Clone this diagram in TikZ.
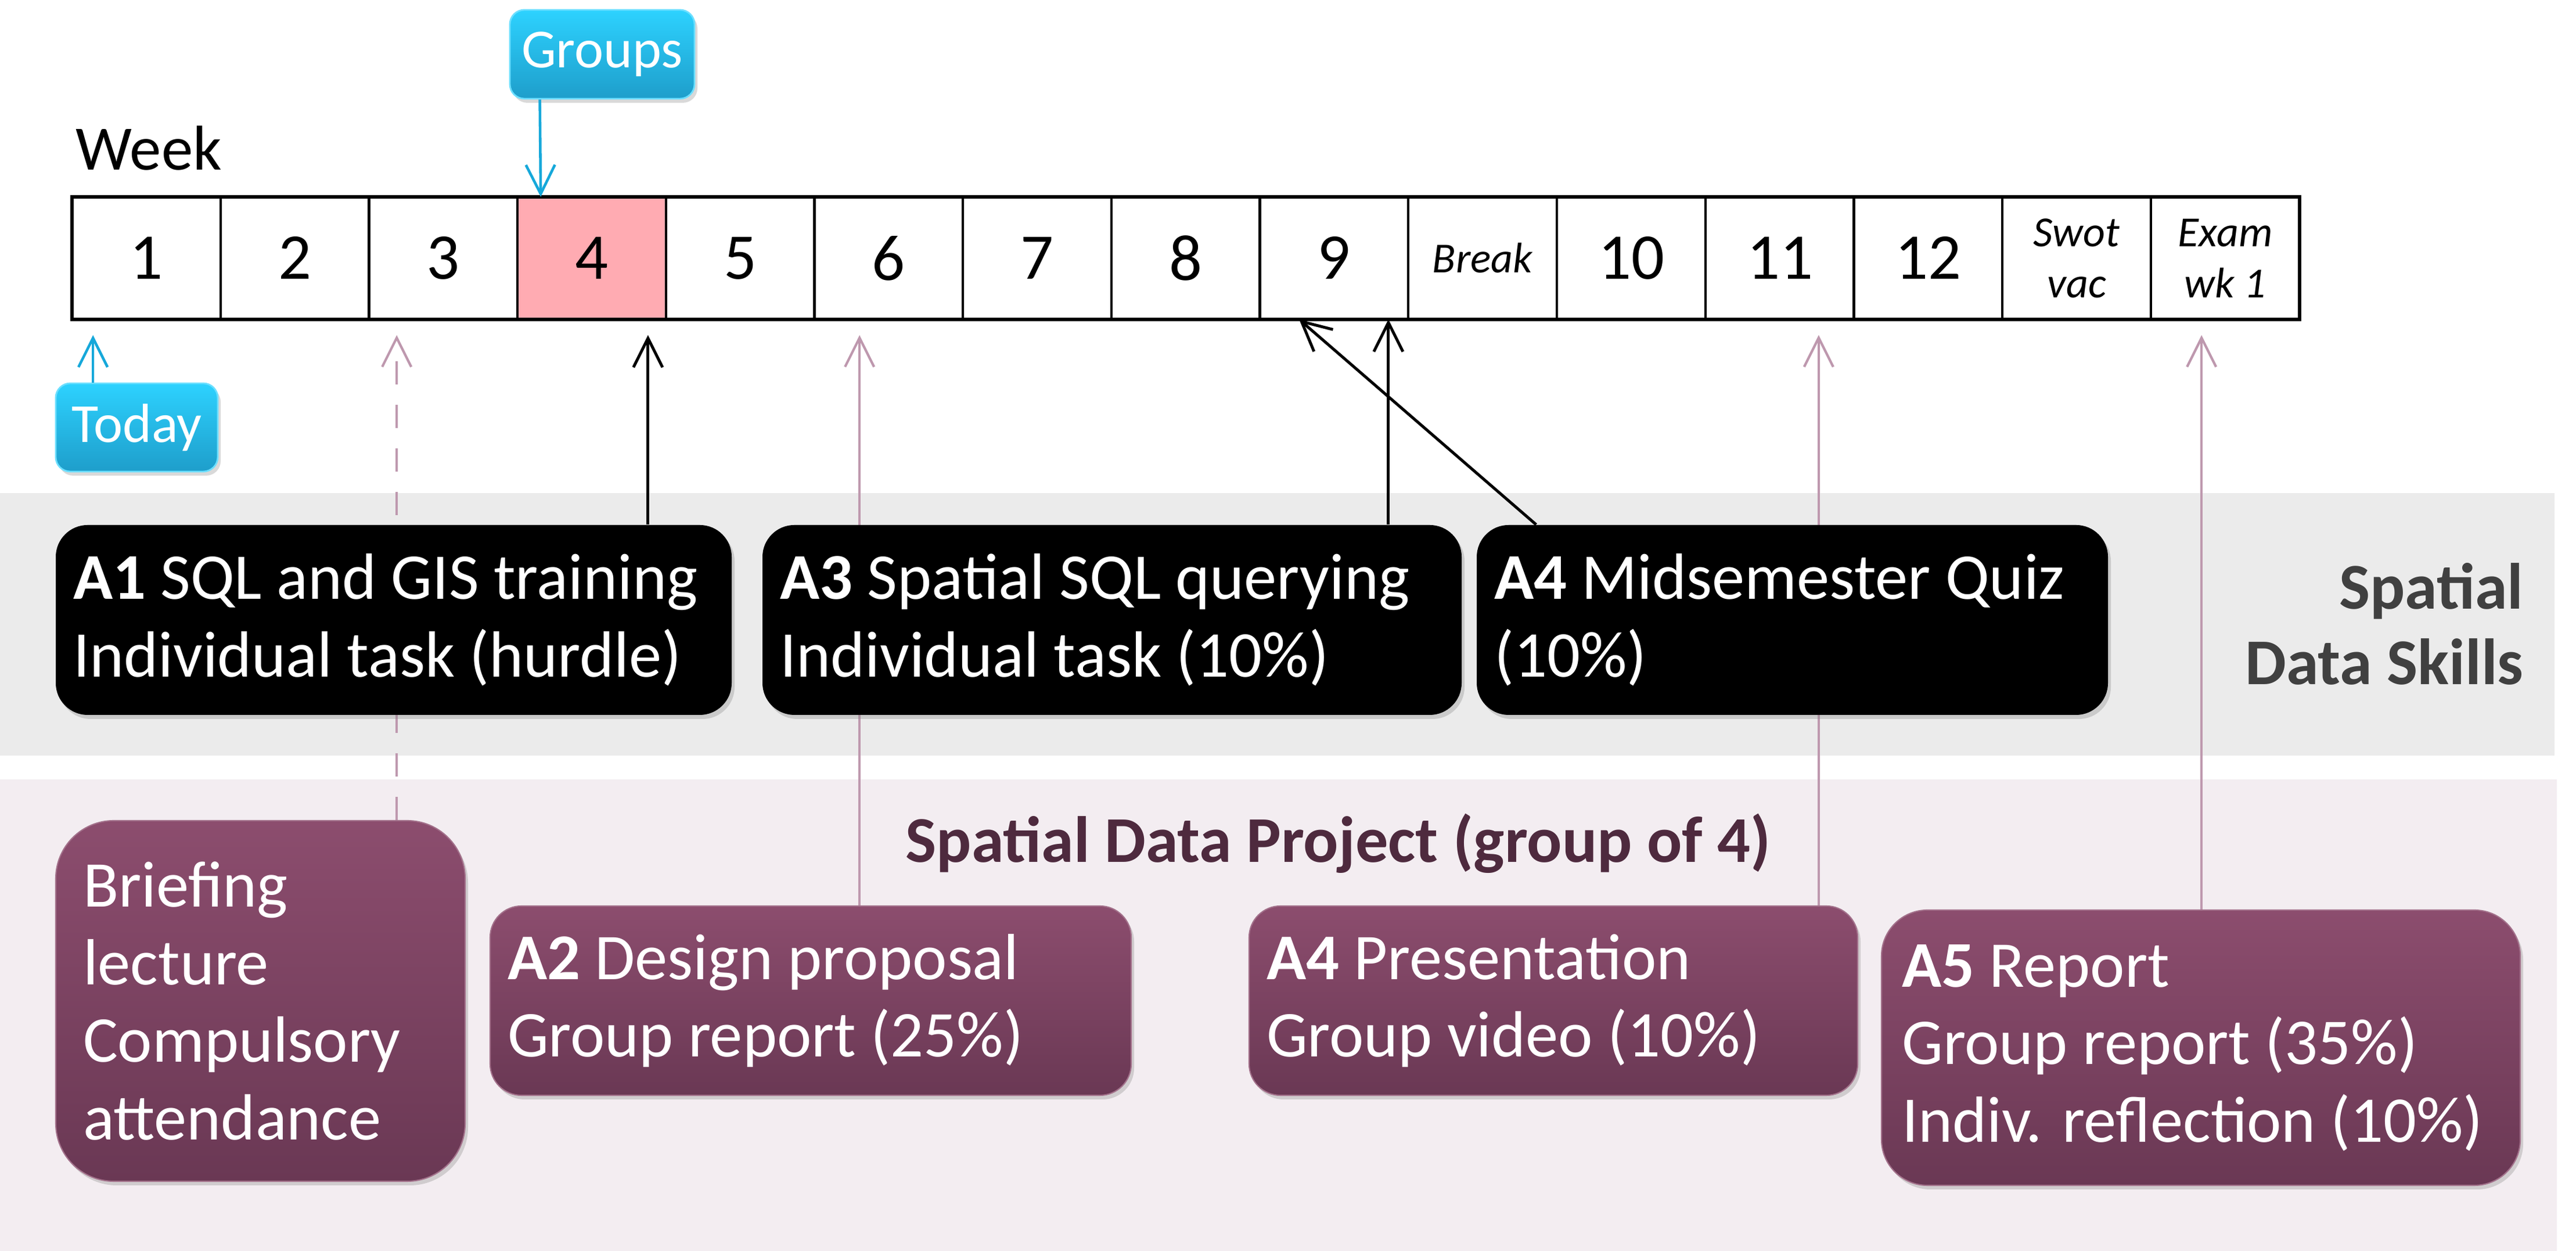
\documentclass[tikz,border=0pt]{standalone}
\usepackage{fontspec}
\setmainfont{Carlito}
\usepackage{xcolor}
\usepackage{tikz}
\usetikzlibrary{positioning,calc,arrows.meta,shadows}

\definecolor{skillgrey}{HTML}{EBEBEB}
\definecolor{skilltext}{HTML}{404040}
\definecolor{projpink}{HTML}{F3EDF1}
\definecolor{plumtop}{HTML}{8C4D6E}
\definecolor{plumbot}{HTML}{6A3854}
\definecolor{plumline}{HTML}{BE98AE}
\definecolor{plumtext}{HTML}{4E2A3E}
\definecolor{cyantop}{HTML}{2DD2FF}
\definecolor{cyanbot}{HTML}{1E9ECB}
\definecolor{cyanline}{HTML}{16A8DA}
\definecolor{weekpink}{HTML}{FFABB2}

\pgfdeclarelayer{bands}
\pgfdeclarelayer{links}
\pgfsetlayers{bands,links,main}

\begin{document}
\begin{tikzpicture}[
    big/.style={font=\fontsize{32}{38}\selectfont},
    week/.style={draw, line width=1.1pt, minimum width=2.557cm, minimum height=2.11cm, inner sep=0pt, outer sep=0pt, big},
    small/.style={font=\fontsize{21}{25}\selectfont\itshape, align=center},
    boxshadow/.style={drop shadow={shadow xshift=0.05cm, shadow yshift=-0.07cm, opacity=0.3}},
    skill/.style={fill=black, text=white, rounded corners=0.55cm, inner xsep=0.3cm, align=flush left, minimum height=3.27cm, big, boxshadow},
    project/.style={top color=plumtop, bottom color=plumbot, draw=plumtop!80!white, line width=0.6pt, text=white, inner xsep=0.3cm, align=flush left, big, boxshadow},
    tag/.style={top color=cyantop, bottom color=cyanbot, draw=cyantop!70!white, line width=0.8pt, text=white, rounded corners=0.25cm, font=\fontsize{27}{32}\selectfont, boxshadow},
    blackarrow/.style={-{Straight Barb[length=5mm,width=5mm]}, line width=1.4pt},
    pinkarrow/.style={-{Straight Barb[length=5mm,width=5mm]}, plumline, line width=1.2pt},
    cyanarrow/.style={-{Straight Barb[length=5mm,width=5mm]}, cyanline, line width=1.3pt},
]
    \useasboundingbox (0,0) rectangle (44.36,21.54);

    % Bands
    \begin{pgfonlayer}{bands}
        \fill[skillgrey] (0,8.53) rectangle (43.99,13.05);
        \fill[projpink] (0,0) rectangle (44.03,8.12);
    \end{pgfonlayer}

    % Timeline
    \node[anchor=base west, inner sep=0pt, font=\fontsize{31}{37}\selectfont] (weeklabel) at (1.30,18.61) {Week};
    \node[week] (w1) at (2.52,17.095) {1};
    \node[week] (w2) at (5.08,17.095) {2};
    \node[week] (w3) at (7.63,17.095) {3};
    \node[week, fill=weekpink] (w4) at (10.19,17.095) {4};
    \node[week] (w5) at (12.75,17.095) {5};
    \node[week] (w6) at (15.30,17.095) {6};
    \node[week] (w7) at (17.86,17.095) {7};
    \node[week] (w8) at (20.42,17.095) {8};
    \node[week] (w9) at (22.97,17.095) {9};
    \node[week, small] (w10) at (25.53,17.095) {Break};
    \node[week] (w11) at (28.09,17.095) {10};
    \node[week] (w12) at (30.65,17.095) {11};
    \node[week] (w13) at (33.20,17.095) {12};
    \node[week, small] (w14) at (35.76,17.095) {Swot\\vac};
    \node[week, small] (w15) at (38.32,17.095) {Exam\\wk 1};
    \draw[line width=1.6pt] (w1.south west) rectangle (w15.north east);

    % Groups and Today
    \node[tag, minimum width=3.18cm, minimum height=1.53cm] (groups) at (10.37,20.605) {Groups};
    \node[tag, minimum width=2.79cm, minimum height=1.52cm] (today) at (2.355,14.18) {Today};

    % Spatial Data Skills
    \node[skill, text width=11.04cm] (aone) at (6.78,10.865) {\textbf{A1} SQL and GIS training\\Individual task (hurdle)};
    \node[skill, text width=11.44cm] (athree) at (19.15,10.865) {\textbf{A3} Spatial SQL querying\\Individual task (10\%)};
    \node[skill, text width=10.27cm] (quiz) at (30.865,10.865) {\textbf{A4} Midsemester Quiz\\(10\%)};
    \node[anchor=east, inner sep=0pt, align=right, font=\bfseries\fontsize{32}{37}\selectfont, text=skilltext] (skills) at (43.46,10.80) {Spatial\\Data Skills};

    % Spatial Data Project
    \node[anchor=base west, inner sep=0pt, font=\bfseries\fontsize{32}{38}\selectfont, text=plumtext] (projlabel) at (15.59,6.69) {Spatial Data Project (group of 4)};
    \node[project, rounded corners=1cm, inner xsep=0.47cm, text width=6.11cm, minimum height=6.21cm] (brief) at (4.485,4.305) {Briefing\\lecture\\Compulsory\\attendance};
    \node[project, rounded corners=0.54cm, text width=10.44cm, minimum height=3.26cm] (atwo) at (13.96,4.31) {\textbf{A2} Design proposal\\Group report (25\%)};
    \node[project, rounded corners=0.54cm, text width=9.88cm, minimum height=3.26cm] (present) at (26.75,4.31) {\textbf{A4} Presentation\\Group video (10\%)};
    \node[project, rounded corners=0.79cm, inner xsep=0.35cm, text width=10.30cm, minimum height=4.74cm] (report) at (37.90,3.50) {\textbf{A5} Report\\Group report (35\%)\\Indiv. reflection (10\%)};

    % Arrow tips below the weeks
    \coordinate (todaytip) at ([xshift=3.6mm,yshift=-2.7mm]w1.south west);
    \coordinate (brieftip) at ([xshift=4.8mm,yshift=-2.7mm]w3.south west);
    \coordinate (aonetip) at ([xshift=-3.1mm,yshift=-2.7mm]w4.south east);
    \coordinate (atwotip) at ([xshift=7.8mm,yshift=-2.7mm]w6.south west);
    \coordinate (quiztip) at ([xshift=6.8mm]w9.south west);
    \coordinate (athreetip) at ([xshift=-3.4mm]w9.south east);
    \coordinate (presenttip) at ([xshift=-6.1mm,yshift=-2.7mm]w12.south east);
    \coordinate (reporttip) at ([xshift=8.7mm,yshift=-2.7mm]w15.south west);

    % Connectors
    \draw[cyanarrow] ([xshift=5.3mm]groups.south west) -- ([xshift=4mm]w4.north west);
    \draw[cyanarrow] (todaytip |- today.north) -- (todaytip);
    \begin{pgfonlayer}{links}
        \draw[blackarrow] (aonetip |- aone.north) -- (aonetip);
        \draw[blackarrow] (athreetip |- athree.north) -- (athreetip);
        \draw[blackarrow] ([xshift=10.3mm]quiz.north west) -- (quiztip);
        \draw[pinkarrow, dash pattern=on 4mm off 3.5mm] (brieftip |- brief.north) -- (brieftip);
        \draw[pinkarrow] (atwotip |- atwo.north) -- (atwotip);
        \draw[pinkarrow] (presenttip |- present.north) -- (presenttip);
        \draw[pinkarrow] (reporttip |- report.north) -- (reporttip);
    \end{pgfonlayer}
\end{tikzpicture}
\end{document}
